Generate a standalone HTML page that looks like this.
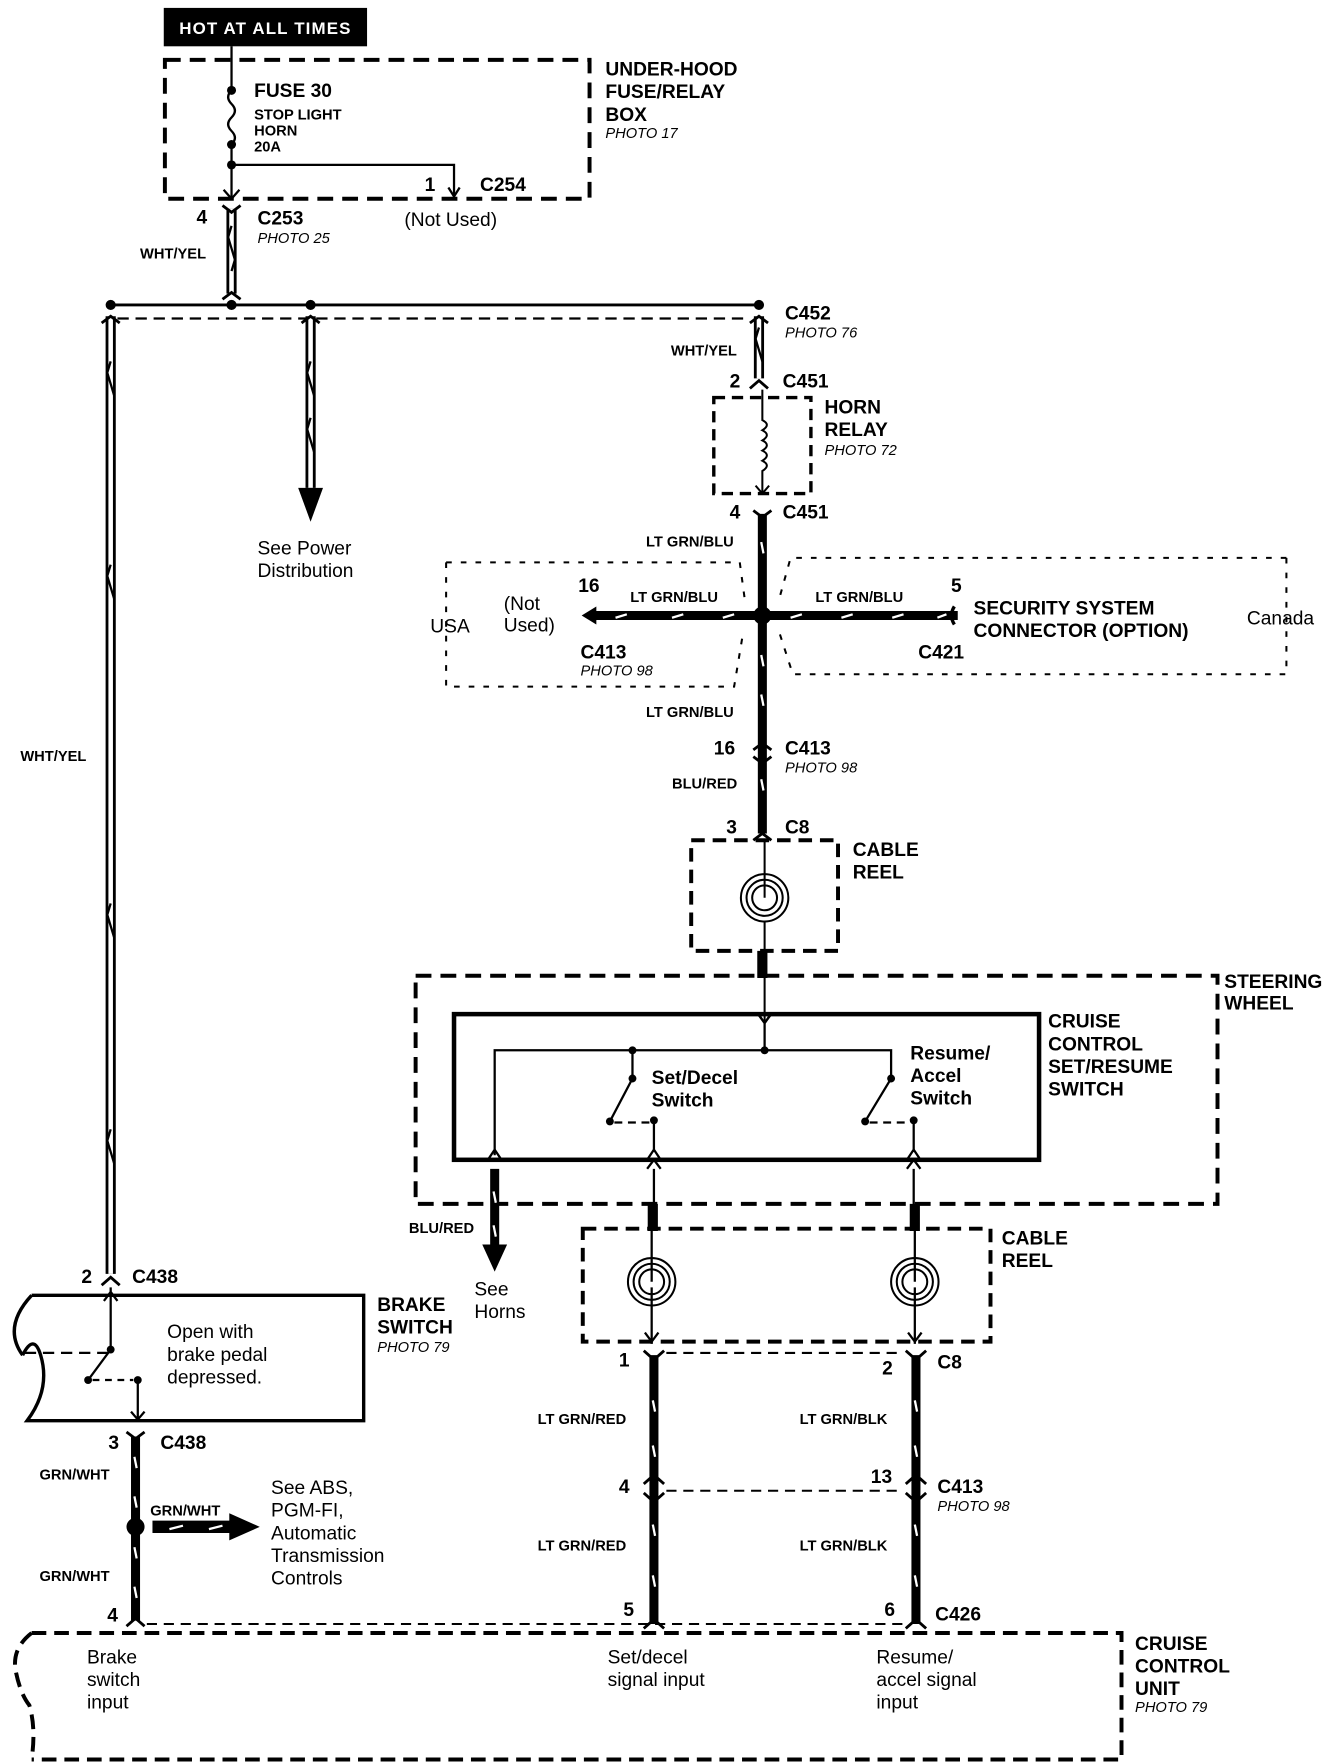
<!DOCTYPE html>
<html><head><meta charset="utf-8"><style>
html,body{margin:0;padding:0;background:#fff}
svg{display:block}
text{font-family:"Liberation Sans",Arial,sans-serif;fill:#000}
.i{font-style:italic;font-size:13px}
.s{font-size:13px;font-weight:bold}
.L{font-size:17px;font-weight:bold}
.n{font-size:17px}
</style></head><body>
<svg width="1344" height="1764" viewBox="0 0 1190 1562" preserveAspectRatio="none" xmlns="http://www.w3.org/2000/svg">
<rect width="1190" height="1562" fill="#fff"/>
<rect x="145" y="7" width="180" height="34" fill="#000"/>
<text x="235" y="30" text-anchor="middle" style="fill:#fff;font-size:15px;font-weight:bold;letter-spacing:1px">HOT AT ALL TIMES</text>

<g fill="none" stroke="#000">
<rect x="146" y="53" width="376" height="123" stroke-width="3.5" stroke-dasharray="14,8"/>
<path d="M205 41 V80 q-6 6 0 12 q6 6 0 12 q-6 6 0 12 q6 6 0 12 M205 128 V176 M205 146 H402 V174" stroke-width="2"/>
<path d="M397 166 l5 8 l5 -8 M198 168 l7 8 l7 -8" stroke-width="2"/>
<path d="M205 185 V260" stroke-width="9"/>
<path d="M205 185 V260" stroke="#fff" stroke-width="4"/>
<path d="M197 182 l8 6 l8 -6 M197 265 l8 -6 l8 6" stroke-width="2.5"/>
<path d="M98 270 H672" stroke-width="2.5"/>
<path d="M104 282 H660" stroke-width="2" stroke-dasharray="10,6"/>
<path d="M98 280 V1128" stroke-width="9"/>
<path d="M98 280 V1128" stroke="#fff" stroke-width="4"/>
<path d="M90 286 l8 -6 l8 6 M90 1138 l8 -7 l8 7" stroke-width="2.5"/>
<path d="M275 280 V432" stroke-width="9"/>
<path d="M275 280 V432" stroke="#fff" stroke-width="4"/>
<path d="M267 286 l8 -6 l8 6" stroke-width="2.5"/>
<path d="M672 280 V335" stroke-width="9"/>
<path d="M672 280 V335" stroke="#fff" stroke-width="4"/>
<path d="M664 286 l8 -6 l8 6 M664 344 l8 -7 l8 7" stroke-width="2.5"/>
<rect x="632" y="352" width="86" height="85" stroke-width="3" stroke-dasharray="10,6"/>
<path d="M675 345 V372 q8 4 0 9 q8 4 0 9 q8 4 0 9 q8 4 0 9 q8 4 0 9 V437 M669 430 l6 7 l6 -7" stroke-width="1.8"/>
<!-- thick vertical wire segments -->
<path d="M675 455 V738" stroke-width="8"/>
<path d="M675 842 V866" stroke-width="9"/>
<path d="M667 452 l8 6 l8 -6 M667 664 l8 -6 l8 6 M667 670 l8 6 l8 -6 M667 744 l8 -6 l8 6" stroke-width="2.5"/>
<path d="M525 545 H848" stroke-width="8"/>
<path d="M845 537 q-5 8 0 16" stroke-width="3"/>
<path d="M395 498 H655 L660 535 M395 498 V608 H650 L658 560" stroke-width="1.8" stroke-dasharray="5,8"/>
<path d="M1139 494 H700 L690 530 M1139 494 V597 H702 L690 560" stroke-width="1.8" stroke-dasharray="5,8"/>
<rect x="612" y="744" width="130" height="98" stroke-width="3.5" stroke-dasharray="12,7"/>
<circle cx="677" cy="795" r="21" stroke-width="1.8"/>
<circle cx="677" cy="795" r="16" stroke-width="1.8"/>
<circle cx="677" cy="795" r="11" stroke-width="1.8"/>
<path d="M677 745 V795 M677 816 V842 M677 866 V906 M671 898 l6 8 l6 -8" stroke-width="1.8"/>
<rect x="368" y="864" width="710" height="202" stroke-width="3.5" stroke-dasharray="14,8"/>
<rect x="402" y="898" width="518" height="129" stroke-width="4"/>
<path d="M671 897 l6 9 l6 -9 M677 906 V930 M438 1023 V930 H789 V955 L766 993 M560 930 V955 L540 993" stroke-width="2"/>
<path d="M544 994 H575 M770 994 H805" stroke-width="2" stroke-dasharray="7,5"/>
<path d="M579 1020 V992 M809 1020 V992" stroke-width="2"/>
<path d="M432 1027 l6 -9 l6 9 M573 1027 l6 -9 l6 9 M803 1027 l6 -9 l6 9 M573 1035 l6 -8 l6 8 M803 1035 l6 -8 l6 8" stroke-width="2"/>
<path d="M438 1035 V1105" stroke-width="8"/>
<path d="M579 1035 V1088 M809 1035 V1088 M577 1140 V1190 M810 1140 V1190 M577 1088 V1135 M810 1088 V1135" stroke-width="2"/>
<path d="M578 1066 V1090 M810 1066 V1090" stroke-width="9"/>
<rect x="516" y="1088" width="361" height="100" stroke-width="3.5" stroke-dasharray="12,7"/>
<circle cx="577" cy="1135" r="21" stroke-width="1.8"/>
<circle cx="577" cy="1135" r="16" stroke-width="1.8"/>
<circle cx="577" cy="1135" r="11" stroke-width="1.8"/>
<circle cx="810" cy="1135" r="21" stroke-width="1.8"/>
<circle cx="810" cy="1135" r="16" stroke-width="1.8"/>
<circle cx="810" cy="1135" r="11" stroke-width="1.8"/>
<path d="M571 1180 l6 8 l6 -8 M804 1180 l6 8 l6 -8" stroke-width="2"/>
<path d="M579 1200 V1438 M811 1200 V1438" stroke-width="8"/>
<path d="M570 1196 l9 8 l9 -8 M802 1196 l9 8 l9 -8 M570 1314 l9 -8 l9 8 M802 1314 l9 -8 l9 8 M570 1322 l9 8 l9 -8 M802 1322 l9 8 l9 -8 M570 1442 l9 -8 l9 8 M802 1442 l9 -8 l9 8" stroke-width="2.5"/>
<path d="M590 1198 H800 M590 1320 H800 M130 1438 H800" stroke-width="1.8" stroke-dasharray="9,6"/>
<path d="M28 1147 H322 V1258 H24 Q45 1230 36 1200 Q30 1180 20 1200 M28 1147 Q2 1175 20 1200" stroke-width="3"/>
<path d="M22 1198 H98" stroke-width="2" stroke-dasharray="10,6"/>
<path d="M98 1140 V1195 L78 1222 M92 1152 l6 -8 l6 8 M122 1222 V1256 M116 1250 l6 7 l6 -7" stroke-width="2"/>
<path d="M82 1222 H118" stroke-width="2" stroke-dasharray="6,5"/>
<path d="M120 1272 V1435" stroke-width="8"/>
<path d="M112 1268 l8 6 l8 -6 M112 1440 l8 -7 l8 7" stroke-width="2.5"/>
<path d="M135 1352 H205" stroke-width="11"/>
<path d="M28 1446 H993 V1558 H28 M28 1446 Q10 1460 14 1480 Q18 1500 26 1510 Q32 1530 28 1558" stroke-width="3.5" stroke-dasharray="13,7"/>
</g>
<g stroke="#fff" stroke-width="2" fill="none">
<path d="M674 480 l2 10 M674 580 l2 10 M674 615 l2 10 M674 690 l2 10 M437 1055 l2 10 M437 1085 l2 10 M578 1240 l2 10 M578 1280 l2 10 M578 1350 l2 10 M578 1395 l2 10 M810 1240 l2 10 M810 1280 l2 10 M810 1350 l2 10 M810 1395 l2 10 M119 1290 l2 10 M119 1325 l2 10 M119 1370 l2 10 M119 1405 l2 10"/>
<path d="M545 547 l10 -3 M595 547 l10 -3 M640 547 l10 -3 M700 547 l10 -3 M745 547 l10 -3 M790 547 l10 -3 M830 547 l8 -3 M150 1354 l12 -3 M185 1354 l12 -3"/>
</g>
<g stroke="#000" stroke-width="2" fill="none">
<path d="M205 200 l-3 10 l6 20 l-3 10 M98 320 l-3 10 l6 20 M98 500 l-3 10 l6 20 M98 800 l-3 10 l6 20 M98 1000 l-3 10 l6 20 M275 320 l-3 10 l6 20 M275 370 l-3 10 l6 20 M672 290 l-3 10 l6 20"/>
</g>
<polygon points="264,432 286,432 275,462" fill="#000"/>
<polygon points="427,1102 449,1102 438,1126" fill="#000"/>
<polygon points="203,1340 230,1352 203,1364" fill="#000"/>
<polygon points="528,537 515,545 528,553" fill="#000"/>
<g fill="#000">
<circle cx="98" cy="270" r="4.5"/><circle cx="205" cy="270" r="4.5"/><circle cx="275" cy="270" r="4.5"/><circle cx="672" cy="270" r="4.5"/>
<circle cx="205" cy="80" r="4"/><circle cx="205" cy="128" r="4"/><circle cx="205" cy="146" r="4"/>
<circle cx="675" cy="545" r="8"/><circle cx="120" cy="1352" r="8"/>
<circle cx="677" cy="930" r="3.5"/><circle cx="560" cy="930" r="3.5"/><circle cx="560" cy="955" r="3.5"/><circle cx="540" cy="993" r="3.5"/><circle cx="579" cy="992" r="3.5"/><circle cx="789" cy="955" r="3.5"/><circle cx="766" cy="993" r="3.5"/><circle cx="809" cy="992" r="3.5"/>
<circle cx="98" cy="1195" r="3.5"/><circle cx="78" cy="1222" r="3.5"/><circle cx="122" cy="1222" r="3.5"/>
</g>
<text x="225" y="86" class="L">FUSE 30</text>
<text x="225" y="106" class="s">STOP LIGHT</text>
<text x="225" y="120" class="s">HORN</text>
<text x="225" y="134" class="s">20A</text>
<text x="536" y="67" class="L">UNDER-HOOD</text>
<text x="536" y="87" class="L">FUSE/RELAY</text>
<text x="536" y="107" class="L">BOX</text>
<text x="536" y="122" class="i">PHOTO 17</text>
<text x="376" y="169" class="L">1</text><text x="425" y="169" class="L">C254</text>
<text x="358" y="200" class="n">(Not Used)</text>
<text x="174" y="198" class="L">4</text><text x="228" y="199" class="L">C253</text><text x="228" y="215" class="i">PHOTO 25</text>
<text x="124" y="229" class="s">WHT/YEL</text>
<text x="18" y="674" class="s">WHT/YEL</text>
<text x="228" y="491" class="n">See Power</text><text x="228" y="511" class="n">Distribution</text>
<text x="695" y="283" class="L">C452</text><text x="695" y="299" class="i">PHOTO 76</text>
<text x="594" y="315" class="s">WHT/YEL</text>
<text x="646" y="343" class="L">2</text><text x="693" y="343" class="L">C451</text>
<text x="730" y="366" class="L">HORN</text><text x="730" y="386" class="L">RELAY</text><text x="730" y="403" class="i">PHOTO 72</text>
<text x="646" y="459" class="L">4</text><text x="693" y="459" class="L">C451</text>
<text x="572" y="484" class="s">LT GRN/BLU</text>
<text x="558" y="533" class="s">LT GRN/BLU</text>
<text x="722" y="533" class="s">LT GRN/BLU</text>
<text x="512" y="524" class="L">16</text><text x="842" y="524" class="L">5</text>
<text x="446" y="540" class="n">(Not</text><text x="446" y="559" class="n">Used)</text>
<text x="381" y="560" class="n">USA</text>
<text x="862" y="544" class="L">SECURITY SYSTEM</text><text x="862" y="564" class="L">CONNECTOR (OPTION)</text>
<text x="1104" y="553" class="n">Canada</text>
<text x="514" y="583" class="L">C413</text><text x="514" y="598" class="i">PHOTO 98</text>
<text x="813" y="583" class="L">C421</text>
<text x="572" y="635" class="s">LT GRN/BLU</text>
<text x="632" y="668" class="L">16</text><text x="695" y="668" class="L">C413</text><text x="695" y="684" class="i">PHOTO 98</text>
<text x="595" y="698" class="s">BLU/RED</text>
<text x="643" y="738" class="L">3</text><text x="695" y="738" class="L">C8</text>
<text x="755" y="758" class="L">CABLE</text><text x="755" y="778" class="L">REEL</text>
<text x="1084" y="875" class="L">STEERING</text><text x="1084" y="894" class="L">WHEEL</text>
<text x="928" y="910" class="L">CRUISE</text><text x="928" y="930" class="L">CONTROL</text><text x="928" y="950" class="L">SET/RESUME</text><text x="928" y="970" class="L">SWITCH</text>
<text x="577" y="960" class="L">Set/Decel</text><text x="577" y="980" class="L">Switch</text>
<text x="806" y="938" class="L">Resume/</text><text x="806" y="958" class="L">Accel</text><text x="806" y="978" class="L">Switch</text>
<text x="362" y="1092" class="s">BLU/RED</text>
<text x="420" y="1147" class="n">See</text><text x="420" y="1167" class="n">Horns</text>
<text x="887" y="1102" class="L">CABLE</text><text x="887" y="1122" class="L">REEL</text>
<text x="548" y="1210" class="L">1</text><text x="781" y="1217" class="L">2</text><text x="830" y="1212" class="L">C8</text>
<text x="476" y="1261" class="s">LT GRN/RED</text><text x="708" y="1261" class="s">LT GRN/BLK</text>
<text x="548" y="1322" class="L">4</text><text x="771" y="1313" class="L">13</text>
<text x="830" y="1322" class="L">C413</text><text x="830" y="1338" class="i">PHOTO 98</text>
<text x="476" y="1373" class="s">LT GRN/RED</text><text x="708" y="1373" class="s">LT GRN/BLK</text>
<text x="552" y="1431" class="L">5</text><text x="783" y="1431" class="L">6</text><text x="828" y="1435" class="L">C426</text>
<text x="72" y="1136" class="L">2</text><text x="117" y="1136" class="L">C438</text>
<text x="334" y="1161" class="L">BRAKE</text><text x="334" y="1181" class="L">SWITCH</text><text x="334" y="1197" class="i">PHOTO 79</text>
<text x="148" y="1185" class="n">Open with</text><text x="148" y="1205" class="n">brake pedal</text><text x="148" y="1225" class="n">depressed.</text>
<text x="96" y="1283" class="L">3</text><text x="142" y="1283" class="L">C438</text>
<text x="35" y="1310" class="s">GRN/WHT</text><text x="133" y="1342" class="s">GRN/WHT</text><text x="35" y="1400" class="s">GRN/WHT</text>
<text x="240" y="1323" class="n">See ABS,</text><text x="240" y="1343" class="n">PGM-FI,</text><text x="240" y="1363" class="n">Automatic</text><text x="240" y="1383" class="n">Transmission</text><text x="240" y="1403" class="n">Controls</text>
<text x="95" y="1436" class="L">4</text>
<text x="77" y="1473" class="n">Brake</text><text x="77" y="1493" class="n">switch</text><text x="77" y="1513" class="n">input</text>
<text x="538" y="1473" class="n">Set/decel</text><text x="538" y="1493" class="n">signal input</text>
<text x="776" y="1473" class="n">Resume/</text><text x="776" y="1493" class="n">accel signal</text><text x="776" y="1513" class="n">input</text>
<text x="1005" y="1461" class="L">CRUISE</text><text x="1005" y="1481" class="L">CONTROL</text><text x="1005" y="1501" class="L">UNIT</text><text x="1005" y="1516" class="i">PHOTO 79</text>
</svg>
</body></html>
